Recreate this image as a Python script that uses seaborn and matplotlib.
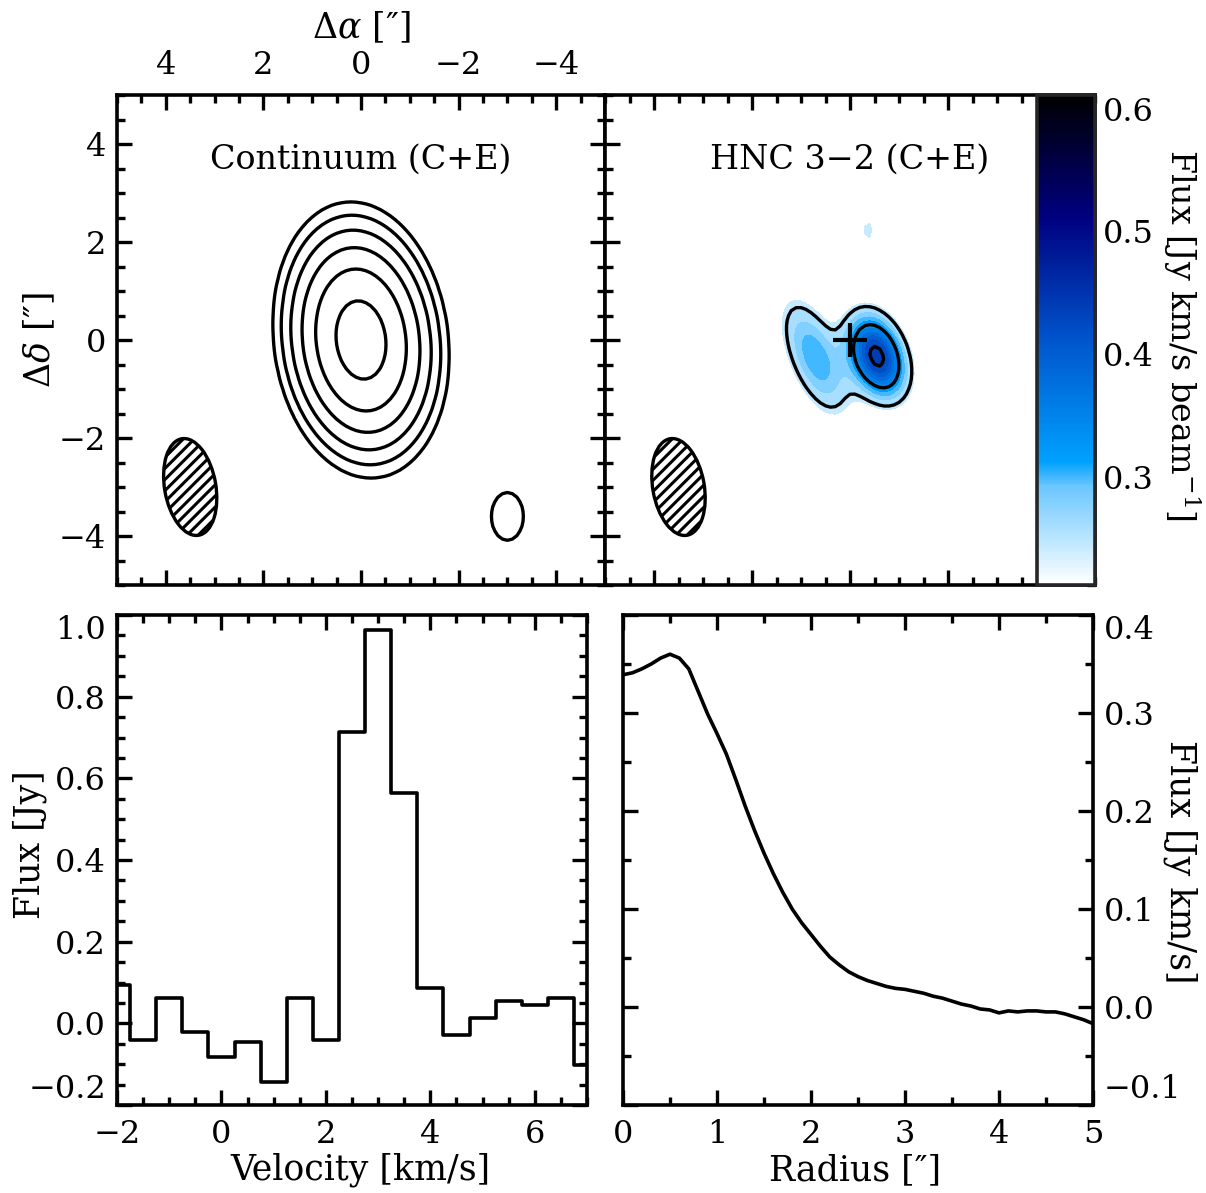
import numpy as np
import pandas as pd
import matplotlib
matplotlib.use('Agg')
import matplotlib.pyplot as plt
from matplotlib.patches import Ellipse
from matplotlib.colors import LinearSegmentedColormap, Normalize
from matplotlib.cm import ScalarMappable
from matplotlib.ticker import MultipleLocator, FuncFormatter
import seaborn as sns

# ---- continuum map: gaussian components (arcsec, sigma, pa in deg) ----
cont_x0 = [0.0, -3.0]
cont_y0 = [0.0, -3.6]
cont_amp = [1.0, 0.03]
cont_sig_maj = [1.03, 0.67]
cont_sig_min = [0.65, 0.45]
cont_pa = [7.0, 0.0]
cont_levels = [0.023, 0.046, 0.092, 0.185, 0.369, 0.738]

# ---- HNC 3-2 map: gaussian components on top of a floor ----
hnc_floor = 0.19
hnc_x0 = [-0.55, 0.72, -0.37]
hnc_y0 = [-0.33, -0.35, 2.24]
hnc_amp = [0.26, 0.115, 0.05]
hnc_sig_maj = [0.60, 0.90, 0.35]
hnc_sig_min = [0.37, 0.37, 0.17]
hnc_pa = [20.0, 22.0, 0.0]
hnc_fill_levels = [0.235, 0.25, 0.27, 0.29, 0.31, 0.33, 0.35, 0.37, 0.39, 0.41, 0.43, 0.45, 0.61]
hnc_line_levels = [0.246, 0.33, 0.435]
cbar_range = [0.212, 0.611]
cbar_ticks = [0.3, 0.4, 0.5, 0.6]

# beam
beam_x, beam_y = 3.5, -3.0
beam_maj, beam_min, beam_pa = 2.0, 1.05, 10.0

# ---- spectrum ----
velocity = [-2.0, -1.5, -1.0, -0.5, 0.0, 0.5, 1.0, 1.5, 2.0, 2.5,
            3.0, 3.5, 4.0, 4.5, 5.0, 5.5, 6.0, 6.5, 7.0]
spec_flux = [0.095, -0.041, 0.062, -0.021, -0.083, -0.045, -0.144, 0.062, -0.041, 0.714,
             0.963, 0.565, 0.087, -0.029, 0.012, 0.054, 0.045, 0.062, -0.103]

# ---- radial profile ----
radius = [0.0, 0.1, 0.2, 0.3, 0.4, 0.5, 0.6, 0.7, 0.8, 0.9,
          1.0, 1.1, 1.2, 1.3, 1.4, 1.5, 1.6, 1.7, 1.8, 1.9,
          2.0, 2.1, 2.2, 2.3, 2.4, 2.5, 2.6, 2.7, 2.8, 2.9,
          3.0, 3.1, 3.2, 3.3, 3.4, 3.5, 3.6, 3.7, 3.8, 3.9,
          4.0, 4.1, 4.2, 4.3, 4.4, 4.5, 4.6, 4.7, 4.8, 4.9, 5.0]
prof_flux = [0.339, 0.341, 0.345, 0.350, 0.356, 0.360, 0.356, 0.345, 0.322, 0.299,
             0.279, 0.258, 0.232, 0.205, 0.180, 0.157, 0.136, 0.117, 0.100, 0.086,
             0.074, 0.062, 0.051, 0.043, 0.036, 0.031, 0.027, 0.024, 0.021, 0.019,
             0.018, 0.016, 0.014, 0.011, 0.009, 0.006, 0.003, 0.001, -0.002, -0.003,
             -0.006, -0.004, -0.005, -0.004, -0.004, -0.005, -0.005, -0.007, -0.010, -0.013, -0.017]


def gauss_map(xx, yy, x0, y0, amp, smaj, smin, pa):
    img = np.zeros_like(xx)
    for i in range(len(amp)):
        phi = np.deg2rad(pa[i])
        dx, dy = xx - x0[i], yy - y0[i]
        u = dx * np.sin(phi) + dy * np.cos(phi)
        v = dx * np.cos(phi) - dy * np.sin(phi)
        img += amp[i] * np.exp(-0.5 * ((u / smaj[i]) ** 2 + (v / smin[i]) ** 2))
    return img


fmt1 = FuncFormatter(lambda v, p: f'{v:.1f}'.replace('-', '\u2212'))


def style_axis(ax, xmaj, xmin, ymaj, ymin):
    ax.xaxis.set_major_locator(MultipleLocator(xmaj))
    ax.xaxis.set_minor_locator(MultipleLocator(xmin))
    ax.yaxis.set_major_locator(MultipleLocator(ymaj))
    ax.yaxis.set_minor_locator(MultipleLocator(ymin))
    ax.tick_params(which='both', direction='in', top=True, right=True, width=2.4,
                   labelsize=23, colors='black')
    ax.tick_params(axis='x', pad=10)
    ax.tick_params(axis='y', pad=8)
    ax.tick_params(which='major', length=11)
    ax.tick_params(which='minor', length=6)
    for s in ax.spines.values():
        s.set_linewidth(2.6)
        s.set_color('black')


def add_beam(ax):
    ax.add_patch(Ellipse((beam_x, beam_y), beam_min, beam_maj, angle=-beam_pa,
                         facecolor='none', edgecolor='black', lw=2.4, hatch='///'))


sns.set_style('ticks')
plt.rcParams['font.family'] = ['DejaVu Serif']
plt.rcParams['mathtext.fontset'] = 'dejavuserif'
plt.rcParams['font.size'] = 23
plt.rcParams['text.color'] = 'black'
plt.rcParams['axes.labelcolor'] = 'black'
plt.rcParams['hatch.linewidth'] = 2.2

cmap = LinearSegmentedColormap.from_list('hnc', [
    (0.0, (1.0, 1.0, 1.0)),
    (0.2, (0.42, 0.78, 1.0)),
    (0.25, (0.0, 0.63, 1.0)),
    (0.5, (0.0, 0.33, 0.80)),
    (0.75, (0.0, 0.0, 0.50)),
    (1.0, (0.0, 0.0, 0.0))])
norm = Normalize(vmin=cbar_range[0], vmax=cbar_range[1])

grid = np.arange(-5.0, 5.001, 0.1)
xx, yy = np.meshgrid(grid, grid)
cont_img = gauss_map(xx, yy, cont_x0, cont_y0, cont_amp, cont_sig_maj, cont_sig_min, cont_pa)
hnc_img = hnc_floor + gauss_map(xx, yy, hnc_x0, hnc_y0, hnc_amp, hnc_sig_maj, hnc_sig_min, hnc_pa)

fig = plt.figure(figsize=(12.06, 11.93), dpi=100)
W, H = 1206.0, 1193.0


def axes_px(x0, y0, x1, y1):
    return fig.add_axes([x0 / W, 1 - y1 / H, (x1 - x0) / W, (y1 - y0) / H])


ax1 = axes_px(117, 95, 605, 585)
ax2 = axes_px(605, 95, 1095, 585)
cax = axes_px(1037, 95, 1095, 585)
ax3 = axes_px(117, 615, 587, 1105)
ax4 = axes_px(623, 615, 1093, 1105)

LABEL = 25

# continuum panel
ax1.contour(xx, yy, cont_img, levels=cont_levels, colors='black', linewidths=2.4)
add_beam(ax1)
ax1.set_xlim(5, -5)
ax1.set_ylim(-5, 5)
style_axis(ax1, 2, 0.5, 2, 0.5)
ax1.tick_params(labeltop=True, labelbottom=False)
ax1.xaxis.set_label_position('top')
ax1.set_xlabel(r'$\Delta\alpha$ [″]', fontsize=LABEL, va='center')
ax1.xaxis.set_label_coords(0.5, 1.137)
ax1.set_ylabel(r'$\Delta\delta$ [″]', fontsize=LABEL, va='center')
ax1.yaxis.set_label_coords(-0.158, 0.5)
ax1.text(0.5, 0.868, 'Continuum (C+E)', transform=ax1.transAxes, ha='center', va='center',
         fontsize=24)

# HNC panel
ax2.contourf(xx, yy, hnc_img, levels=hnc_fill_levels, cmap=cmap, norm=norm)
ax2.contour(xx, yy, hnc_img, levels=hnc_line_levels, colors='black', linewidths=2.4)
ax2.plot([0], [0], marker='+', color='black', markersize=24, mew=3)
add_beam(ax2)
ax2.set_xlim(5, -5)
ax2.set_ylim(-5, 5)
style_axis(ax2, 2, 0.5, 2, 0.5)
ax2.tick_params(labelleft=False, labelbottom=False)
ax2.text(0.5, 0.868, 'HNC 3−2 (C+E)', transform=ax2.transAxes, ha='center', va='center',
         fontsize=24)

cb = fig.colorbar(ScalarMappable(norm=norm, cmap=cmap), cax=cax)
cb.outline.set_linewidth(2.6)
cb.set_ticks(cbar_ticks)
cb.ax.yaxis.set_major_formatter(fmt1)
cb.ax.tick_params(length=0, pad=6, labelsize=23, colors='black')
cb.ax.minorticks_off()
cb.set_label(r'Flux [Jy km/s beam$^{-1}$]', rotation=270, fontsize=24, va='center')
cb.ax.yaxis.set_label_coords(2.5, 0.51)

# spectrum
spec = pd.DataFrame({'v': velocity, 'f': spec_flux})
sns.lineplot(data=spec, x='v', y='f', ax=ax3, color='black', lw=2.6, drawstyle='steps-mid')
ax3.set_xlim(-2, 7)
ax3.set_ylim(-0.2, 1.0)
style_axis(ax3, 2, 0.5, 0.2, 0.05)
ax3.yaxis.set_major_formatter(fmt1)
ax3.set_xlabel('Velocity [km/s]', fontsize=LABEL, va='center')
ax3.xaxis.set_label_coords(0.517, -0.133)
ax3.set_ylabel('Flux [Jy]', fontsize=LABEL, va='center')
ax3.yaxis.set_label_coords(-0.185, 0.531)

# radial profile
prof = pd.DataFrame({'r': radius, 'f': prof_flux})
sns.lineplot(data=prof, x='r', y='f', ax=ax4, color='black', lw=2.6)
ax4.set_xlim(0, 5)
ax4.set_ylim(-0.1, 0.4)
style_axis(ax4, 1, 0.5, 0.1, 0.05)
ax4.yaxis.set_major_formatter(fmt1)
ax4.tick_params(labelleft=False, labelright=True)
ax4.yaxis.set_label_position('right')
ax4.set_xlabel('Radius [″]', fontsize=LABEL, va='center')
ax4.xaxis.set_label_coords(0.494, -0.133)
ax4.set_ylabel('Flux [Jy km/s]', rotation=270, fontsize=LABEL, va='center')
ax4.yaxis.set_label_coords(1.185, 0.496)

# keep end labels of the bottom panels inside the frame
fig.canvas.draw()
for ax in (ax3, ax4):
    ticks = [t for t in ax.yaxis.get_major_ticks()
             if ax.get_ylim()[0] - 1e-9 <= t.get_loc() <= ax.get_ylim()[1] + 1e-9]
    for lab in (ticks[0].label1, ticks[0].label2):
        lab.set_va('bottom')
    for lab in (ticks[-1].label1, ticks[-1].label2):
        lab.set_va('top')

fig.savefig('out.png', dpi=100)
